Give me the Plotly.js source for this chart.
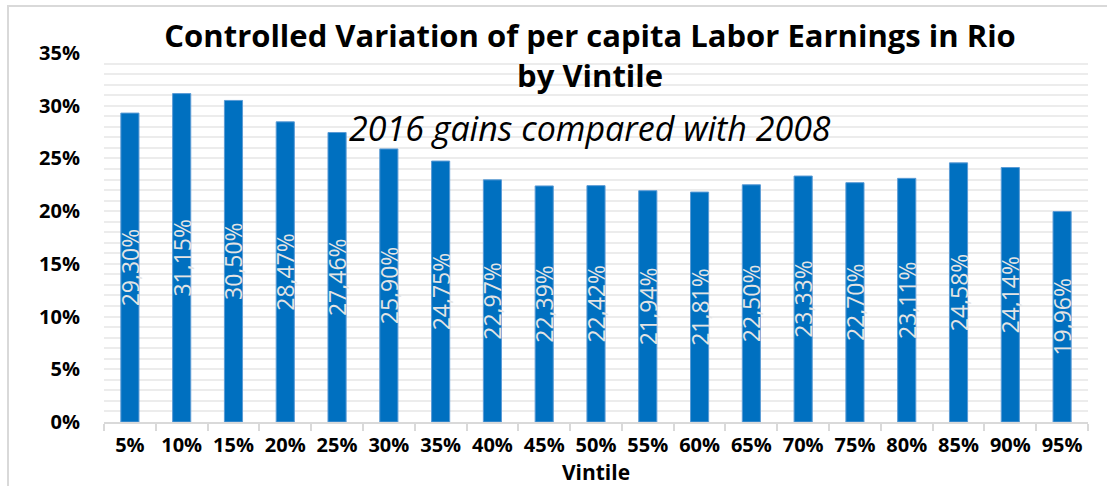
<!DOCTYPE html>
<html>
<head>
<meta charset="utf-8">
<script src="https://cdn.plot.ly/plotly-3.0.1.min.js"></script>
<style>
  html, body { margin: 0; padding: 0; background: #fff; }
  #frame { position: absolute; left: 7px; top: 5px; width: 1200px; height: 600px;
           border-left: 2px solid #d9d9d9; border-top: 2px solid #d9d9d9; }
  #chart { position: absolute; left: 0; top: 0; width: 1107px; height: 486px; }
</style>
</head>
<body>
<div id="frame"></div>
<div id="chart"></div>
<script>
const categories = ['5%','10%','15%','20%','25%','30%','35%','40%','45%','50%',
                    '55%','60%','65%','70%','75%','80%','85%','90%','95%'];
const gains = [0.2930, 0.3115, 0.3050, 0.2847, 0.2746, 0.2590, 0.2475, 0.2297, 0.2239, 0.2242,
               0.2194, 0.2181, 0.2250, 0.2333, 0.2270, 0.2311, 0.2458, 0.2414, 0.1996];
const titleText = 'Controlled Variation of per capita Labor Earnings in Rio<br>by Vintile';
const subtitleText = '2016 gains compared with 2008';
const xTitle = 'Vintile';

const FONT = 'Open Sans, Noto Sans, sans-serif';

const trace = {
  type: 'bar',
  x: categories,
  y: gains,
  marker: { color: '#0070C0', line: { color: '#5b9bd5', width: 1 } },
  texttemplate: '%{y:.2%}',
  textposition: 'inside',
  insidetextanchor: 'middle',
  textangle: -90,
  constraintext: 'none',
  textfont: { family: FONT, size: 23, color: '#e4e4e4' },
  hoverinfo: 'none'
};

const layout = {
  width: 1107, height: 486,
  paper_bgcolor: 'rgba(0,0,0,0)',
  plot_bgcolor: 'rgba(0,0,0,0)',
  separators: ',.',
  margin: { l: 104, r: 19, t: 53, b: 64 },
  bargap: 0.65,
  showlegend: false,
  font: { family: FONT, color: '#000' },
  title: {
    text: titleText,
    font: { family: FONT, size: 31, color: '#000', weight: 'bold' },
    xref: 'paper', x: 0.494, xanchor: 'center',
    yref: 'container', y: 0.903, yanchor: 'top'
  },
  xaxis: {
    type: 'category',
    showline: true, linecolor: '#d9d9d9', linewidth: 2,
    ticks: 'outside', tickson: 'boundaries', ticklen: 7, tickcolor: '#d9d9d9', tickwidth: 2,
    tickfont: { family: FONT, size: 20, color: '#000', weight: 'bold' },
    ticklabelstandoff: 4,
    showgrid: false,
    title: { text: xTitle, font: { family: FONT, size: 21, color: '#000', weight: 'bold' }, standoff: 2 },
    fixedrange: true
  },
  yaxis: {
    range: [0, 0.35],
    dtick: 0.05,
    tickformat: '.0%',
    tickfont: { family: FONT, size: 20, color: '#000', weight: 'bold' },
    showgrid: true, gridcolor: '#ececec', gridwidth: 2,
    minor: { dtick: 0.01, showgrid: true, gridcolor: '#ececec', gridwidth: 2 },
    zeroline: false, showline: false,
    ticks: 'outside', ticklen: 19, tickcolor: 'rgba(0,0,0,0)',
    fixedrange: true
  },
  annotations: [{
    text: subtitleText,
    xref: 'paper', yref: 'paper', x: 0.494, y: 0.797,
    xanchor: 'center', yanchor: 'middle', showarrow: false,
    font: { family: FONT, size: 34, color: '#000', style: 'italic' }
  }]
};

Plotly.newPlot('chart', [trace], layout, { displayModeBar: false, staticPlot: true });
</script>
</body>
</html>
